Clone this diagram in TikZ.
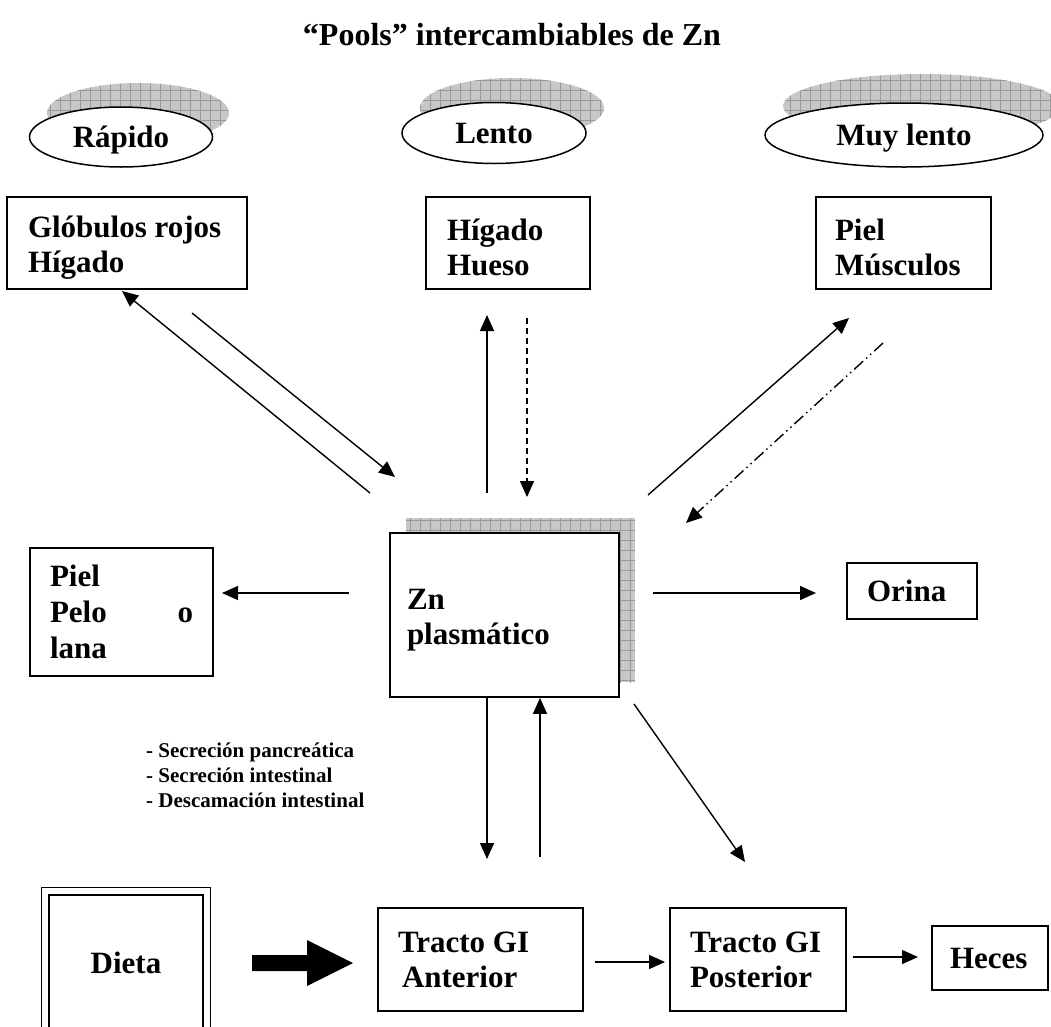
\documentclass[tikz,border=0pt]{standalone}
\usepackage{fontspec}
\setmainfont{Liberation Serif}
\usetikzlibrary{shapes.geometric,arrows.meta}
\newcommand{\tstrut}{\rule{0pt}{30pt}}
\begin{document}
\begin{tikzpicture}[x=1pt,y=-1pt,
  big/.style={font=\bfseries\fontsize{31}{35}\selectfont},
  box/.style={draw, line width=1.7pt, rectangle, inner ysep=0pt, big, align=flush left, fill=white},
  oval/.style={draw, line width=1.5pt, ellipse, fill=white, big, inner sep=0pt, text height=24pt, text depth=4pt},
  arr/.style={line width=1.4pt, -{Triangle[length=16pt,width=14pt]}},
  shfill/.style={fill=black!22},
  shgrid/.style={draw=black!40, line width=0.7pt, step=10pt},
]
\useasboundingbox (0,0) rectangle (1051,1026);

% title
\node[font=\bfseries\fontsize{32}{36}\selectfont] (title) at (512,35) {“Pools” intercambiables de Zn};

% ellipse centres
\coordinate (rapc) at (121,137);
\coordinate (lenc) at (494,133);
\coordinate (muyc) at (904,135);

% shadows of ellipses
\fill[shfill] ([shift={(17,-24)}]rapc) ellipse [x radius=91, y radius=30];
\begin{scope}\clip ([shift={(17,-24)}]rapc) ellipse [x radius=91, y radius=30];
\draw[shgrid] (0,0) grid (300,200);\end{scope}
\fill[shfill] ([shift={(18,-25)}]lenc) ellipse [x radius=92, y radius=30];
\begin{scope}\clip ([shift={(18,-25)}]lenc) ellipse [x radius=92, y radius=30];
\draw[shgrid] (350,0) grid (700,200);\end{scope}
\fill[shfill] ([shift={(18,-29)}]muyc) ellipse [x radius=139, y radius=32];
\begin{scope}\clip ([shift={(18,-29)}]muyc) ellipse [x radius=139, y radius=32];
\draw[shgrid] (700,0) grid (1100,200);\end{scope}

\node[oval, minimum width=183pt, minimum height=60pt] (rap) at (rapc) {Rápido};
\node[oval, minimum width=184pt, minimum height=61pt] (len) at (lenc) {Lento};
\node[oval, minimum width=278pt, minimum height=64pt] (muy) at (muyc) {Muy lento};

% top boxes
\node[box, minimum height=92pt, text width=198pt, inner xsep=21pt] (glob) at (127,243) {\tstrut Glóbulos rojos\\Hígado};
\node[box, minimum height=92pt, text width=122pt, inner xsep=21pt] (hig) at (508,243) {\tstrut Hígado\\Hueso};
\node[box, minimum height=92pt, text width=137pt, inner xsep=19pt] (piel) at (903.5,243) {\tstrut Piel\\Músculos};

% Zn plasmatico with shadow
\fill[shfill] (406,518) rectangle (635,682);
\begin{scope}\clip (406,518) rectangle (635,682);
\draw[shgrid] (400,510) grid (640,690);\end{scope}
\node[box, minimum height=164pt, text width=195pt, inner xsep=17pt] (zn) at (504.5,615) {\tstrut Zn\\plasmático};

% side boxes
\node[box, minimum height=128pt, text width=143pt, inner xsep=20pt, font=\bfseries\fontsize{31}{36}\selectfont] (pelo) at (121.5,612) {Piel\\\makebox[\linewidth][l]{Pelo\hfill o}\\lana};
\node[box, minimum height=56pt, text width=90pt, inner xsep=20pt] (orina) at (912,591) {Orina};

% bottom boxes
\node[box, line width=2.6pt, minimum width=154pt, minimum height=136pt, align=center] (dieta) at (126,963) {Dieta};
\draw[line width=1.4pt] ([shift={(-6,-6)}]dieta.north west) rectangle ([shift={(6,6)}]dieta.south east);
\node[box, minimum height=103pt, text width=165pt, inner xsep=20pt] (ant) at (480.5,959.5) {Tracto GI\\\hspace*{4pt}Anterior};
\node[box, minimum height=103pt, text width=136pt, inner xsep=20pt] (post) at (758,959.5) {Tracto GI\\Posterior};
\node[box, minimum height=64pt, text width=80pt, inner xsep=18pt] (heces) at (990,958) {Heces};

% labels
\node[font=\bfseries\fontsize{21}{25}\selectfont, align=left, anchor=west, inner sep=0pt] (sec) at (146,775) {- Secreción pancreática\\- Secreción intestinal\\- Descamación intestinal};

% connectors
\coordinate (p1s) at (370,493); \coordinate (p1e) at (122,291);
\coordinate (p2s) at (192,313); \coordinate (p2e) at (395,477);
\coordinate (p3s) at (487,493); \coordinate (p3e) at (487,315);
\coordinate (p4s) at (527,318); \coordinate (p4e) at (527,497);
\coordinate (p5s) at (648,495); \coordinate (p5e) at (849,318);
\coordinate (p6s) at (883,343); \coordinate (p6e) at (686,523);
\draw[arr] (p1s) -- (p1e);
\draw[arr] (p2s) -- (p2e);
\draw[arr] (p3s) -- (p3e);
\draw[arr, dash pattern=on 6pt off 4pt] (p4s) -- (p4e);
\draw[arr] (p5s) -- (p5e);
\draw[arr, dash pattern=on 12pt off 4pt on 1.5pt off 4pt on 1.5pt off 4pt] (p6s) -- (p6e);

\coordinate (p7s) at (349,593); \coordinate (p7e) at (222,593);
\draw[arr] (p7s) -- (p7e);
\coordinate (p8s) at (653,593); \coordinate (p8e) at (816,593);
\draw[arr] (p8s) -- (p8e);

\coordinate (p9s) at (487,698); \coordinate (p9e) at (487,859);
\draw[arr] (p9s) -- (p9e);
\coordinate (p10s) at (540,857);
\draw[arr] (p10s) -- (p10s |- zn.south);
\coordinate (p11s) at (634,704); \coordinate (p11e) at (745,862);
\draw[arr] (p11s) -- (p11e);
\coordinate (p12s) at (595,962); \coordinate (p12e) at (665,962);
\draw[arr] (p12s) -- (p12e);
\coordinate (p13s) at (853,957); \coordinate (p13e) at (918,957);
\draw[arr] (p13s) -- (p13e);

% big arrow dieta -> anterior
\coordinate (ba1) at (252,963); \coordinate (ba2) at (353,963);
\fill (ba1) ++(0,-8) -- ++(55,0) -- ++(0,-15) -- (ba2) -- ++(-46,23) -- ++(0,-15) -- ++(-55,0) -- cycle;
\end{tikzpicture}
\end{document}
